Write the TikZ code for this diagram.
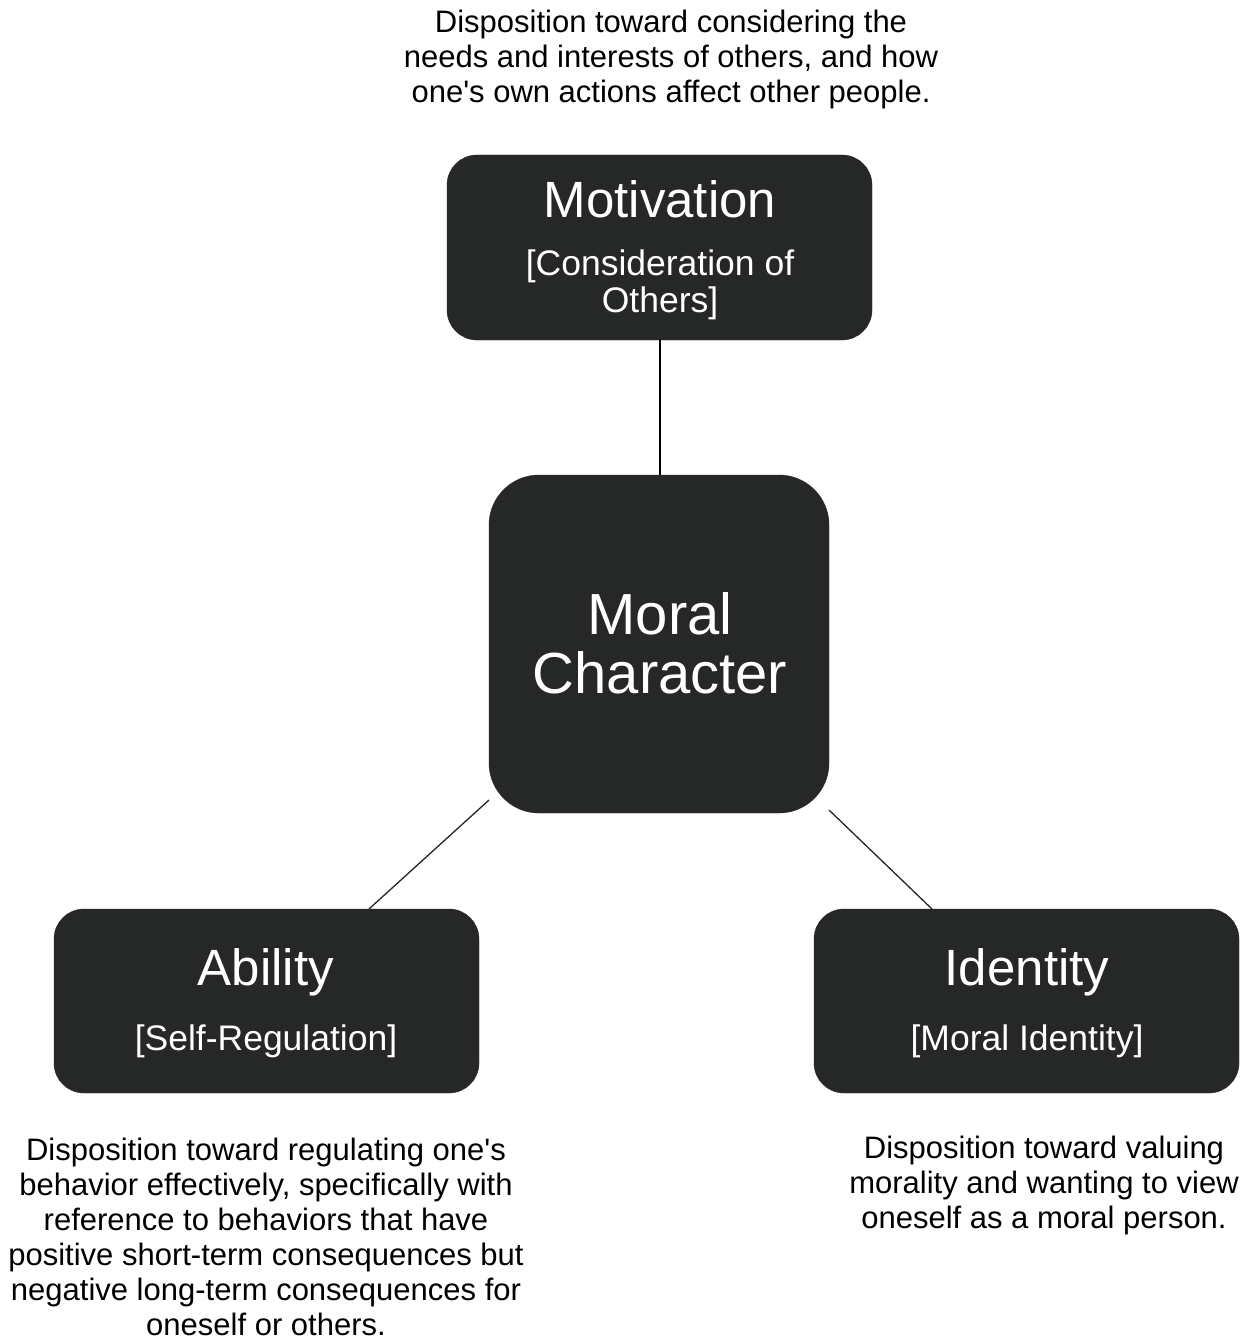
\documentclass[tikz,border=0pt]{standalone}
\usepackage{fontspec}
\setmainfont{Liberation Sans}
\usetikzlibrary{calc}
\definecolor{boxfill}{HTML}{262727}
\newcommand{\aq}{\textquotesingle}
\begin{document}
\begin{tikzpicture}[x=1pt,y=-1pt,
  box/.style={fill=boxfill,draw=boxfill,rounded corners=30pt,inner sep=0pt},
  desc/.style={align=center,font=\fontsize{31}{35}\selectfont,text=black,inner sep=0pt},
  ttl/.style={text=white,font=\fontsize{51}{56}\selectfont,inner sep=0pt},
  sub/.style={text=white,align=center,font=\fontsize{35.5}{36.5}\selectfont,inner sep=0pt}]
\useasboundingbox[fill=white] (0,0) rectangle (1253,1340);
% boxes
\path[box] (447,155) rectangle (872,340);
\path[box,rounded corners=50pt] (489,475) rectangle (829,813);
\path[box] (54,909) rectangle (479,1093);
\path[box] (814,909) rectangle (1239,1093);
\coordinate (motB) at (660,340);
\coordinate (mcT) at (660,475);
\coordinate (mcSW) at (489,800);
\coordinate (mcSE) at (829,810);
\coordinate (abN) at (369,909);
\coordinate (idN) at (932,909);
% connectors
\draw[line width=2pt,black] (motB) -- (mcT);
\draw[line width=1.3pt,black!85] (mcSW) -- (abN);
\draw[line width=1.3pt,black!85] (mcSE) -- (idN);
% texts
\node[ttl] (mott) at (660,199) {Motivation};
\node[sub] (mots) at (660,285) {[Consideration of\\Others]};
\node[text=white,align=center,font=\fontsize{58}{59}\selectfont,inner sep=0pt] (mc) at (660,643) {Moral\\Character};
\node[ttl] (abt) at (266,972) {Ability};
\node[sub] (abs) at (266,1041) {[Self-Regulation]};
\node[ttl] (idt) at (1027,972) {Identity};
\node[sub] (ids) at (1027,1041) {[Moral Identity]};
\node[desc] (dtop) at (671,59) {Disposition toward considering the\\needs and interests of others, and how\\one\aq s own actions affect other people.};
\node[desc] (dleft) at (266,1237) {Disposition toward regulating one\aq s\\behavior effectively, specifically with\\reference to behaviors that have\\positive short-term consequences but\\negative long-term consequences for\\oneself or others.};
\node[desc] (dright) at (1044,1185) {Disposition toward valuing\\morality and wanting to view\\oneself as a moral person.};
\end{tikzpicture}
\end{document}
